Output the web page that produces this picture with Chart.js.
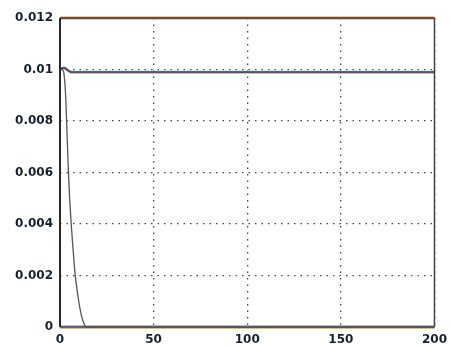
<!DOCTYPE html>
<html><head><meta charset="utf-8">
<script src="https://cdn.jsdelivr.net/npm/chart.js@4"></script>
<style>html,body{margin:0;padding:0;background:#fff}#wrap{width:453px;height:349px}</style>
</head><body><div id="wrap"><canvas id="c" width="453" height="349"></canvas></div>
<script>
const xTicks = [0, 50, 100, 150, 200];
const yTicks = [0, 0.002, 0.004, 0.006, 0.008, 0.01, 0.012];
const yTickLabels = ['0', '0.002', '0.004', '0.006', '0.008', '0.01', '0.012'];
// time samples
const steadyT = [0, 1, 2, 3, 4, 5, 6, 8, 10, 20, 50, 100, 150, 200];
const steadyV = [0.0100, 0.01004, 0.01006, 0.01004, 0.00998, 0.00993, 0.0099, 0.0099, 0.0099, 0.0099, 0.0099, 0.0099, 0.0099, 0.0099];
const decayT = [0, 1, 2, 3, 4, 5, 6, 7, 8, 9, 10, 11, 12, 13, 14, 16, 200];
const decayV = [0.0100, 0.0100, 0.0099, 0.0090, 0.0070, 0.0052, 0.0040, 0.0030, 0.0021, 0.0015, 0.0010, 0.0006, 0.0003, 0.0001, 0, 0, 0];
const topT = [0, 200];
const topV = [0.012, 0.012];
const zeroT = [0, 200];
const zeroV = [0, 0];

const pts = (t, v) => t.map((x, i) => ({x, y: v[i]}));
const mk = (t, v, color, w) => ({data: pts(t, v), borderColor: color, borderWidth: w, pointRadius: 0, tension: 0.3, fill: false, clip: false});

// first dataset is drawn on top
const datasets = [
  mk(decayT, decayV, '#555', 1.3),
  mk(topT, topV, '#34466e', 1.4),
  mk(topT, topV, '#d9604a', 2.4),
  mk(topT, topV, '#f4dc70', 3.2),
  mk(steadyT, steadyV, '#34466e', 1.4),
  mk(steadyT, steadyV, '#d9604a', 2.4),
  mk(steadyT, steadyV, '#9ee6f0', 3.2),
  mk(zeroT, zeroV, '#3a5aa8', 1.4),
  mk(zeroT, zeroV, '#d9604a', 2.4),
  mk(zeroT, zeroV, '#f4dc70', 3.2),
  mk(zeroT, zeroV, '#9ee6f0', 4)
];

const frame = {
  id: 'frame',
  afterDatasetsDraw(chart) {
    const a = chart.chartArea, ctx = chart.ctx;
    ctx.save();
    ctx.strokeStyle = '#2a2a2a';
    ctx.lineWidth = 2;
    ctx.beginPath();
    ctx.moveTo(a.left, a.top); ctx.lineTo(a.left, a.bottom);
    ctx.stroke();
    ctx.lineWidth = 1.5;
    ctx.strokeStyle = '#444';
    ctx.beginPath();
    ctx.moveTo(a.right, a.top); ctx.lineTo(a.right, a.bottom);
    ctx.stroke();
    ctx.restore();
  }
};

const tickFont = {family: 'DejaVu Sans', size: 12, weight: 'bold'};

new Chart(document.getElementById('c'), {
  type: 'line',
  data: {datasets},
  plugins: [frame],
  options: {
    responsive: false,
    animation: false,
    layout: {padding: {left: 0, top: 18, right: 15, bottom: 0}},
    plugins: {legend: {display: false}, tooltip: {enabled: false}},
    scales: {
      x: {
        type: 'linear', min: 0, max: 200,
        afterBuildTicks: s => { s.ticks = xTicks.map(v => ({value: v})); },
        afterFit: s => { s.height = 22; },
        border: {display: false, dash: [1.5, 5]},
        grid: {color: '#444', lineWidth: 1.3, drawTicks: false},
        ticks: {padding: 6, color: '#16202c', font: tickFont, maxRotation: 0, callback: v => String(v)}
      },
      y: {
        type: 'linear', min: 0, max: 0.012,
        afterBuildTicks: s => { s.ticks = yTicks.map(v => ({value: v})); },
        afterFit: s => { s.width = 60; },
        border: {display: false, dash: [1.5, 5]},
        grid: {color: '#444', lineWidth: 1.3, drawTicks: false},
        ticks: {padding: 7, color: '#16202c', font: tickFont,
          callback: (v, i) => yTickLabels[i]}
      }
    }
  }
});
</script>
</body></html>
